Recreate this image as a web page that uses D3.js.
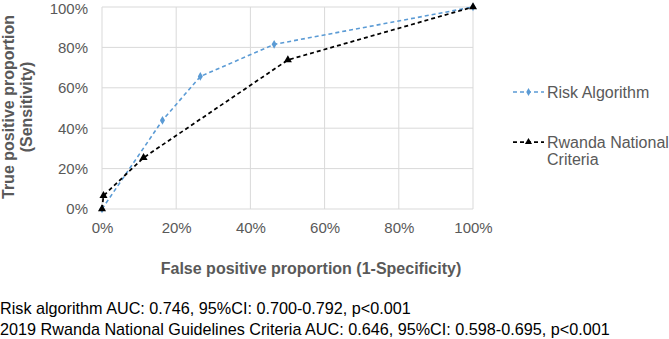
<!DOCTYPE html>
<html>
<head>
<meta charset="utf-8">
<script src="https://cdn.jsdelivr.net/npm/d3@7"></script>
<style>
  body { margin: 0; background: #fff; }
  svg { display: block; font-family: "Liberation Sans", Arial, sans-serif; }
</style>
</head>
<body>
<div class="chart"></div>
<script>
// ROC points (proportions)
const riskFpr = [0, 0.163, 0.265, 0.464, 1]
const riskTpr = [0, 0.439, 0.656, 0.815, 1]
const rwandaFpr = [0, 0.004, 0.112, 0.501, 1]
const rwandaTpr = [0, 0.066, 0.254, 0.738, 1]
const tickValues = [0, 0.2, 0.4, 0.6, 0.8, 1]
const seriesNames = ["Risk Algorithm", "Rwanda National|Criteria"]
const seriesColors = ["#5b9bd5", "#000000"]
const footnotes = [
    "Risk algorithm AUC: 0.746, 95%CI: 0.700-0.792, p<0.001",
    "2019 Rwanda National Guidelines Criteria AUC: 0.646, 95%CI: 0.598-0.695, p<0.001"
]

const width = 669
const height = 339
const margin = ({top: 7, right: 196, bottom: 130, left: 102})
const w = width - margin.left - margin.right
const h = height - margin.top - margin.bottom

const svg = d3.select('.chart').append('svg')
    .attr("width", width)
    .attr("height", height)

const g = svg.append("g")
    .attr("transform", `translate(${margin.left},${margin.top})`)

const xScale = d3.scaleLinear().domain([0, 1]).range([0, w])
const yScale = d3.scaleLinear().domain([0, 1]).range([h, 0])

// Gridlines
g.selectAll(".vgrid")
    .data(tickValues)
    .enter()
    .append("line")
        .attr("x1", d => xScale(d))
        .attr("x2", d => xScale(d))
        .attr("y1", 0)
        .attr("y2", h)
        .attr("stroke", "#d9d9d9")
        .attr("stroke-width", 1)

g.selectAll(".hgrid")
    .data(tickValues)
    .enter()
    .append("line")
        .attr("x1", 0)
        .attr("x2", w)
        .attr("y1", d => yScale(d))
        .attr("y2", d => yScale(d))
        .attr("stroke", "#d9d9d9")
        .attr("stroke-width", 1)

// Axes (labels only, lines are the grid)
const xAxis = d3.axisBottom(xScale)
    .tickValues(tickValues)
    .tickFormat(d3.format(".0%"))
    .tickSize(0)
    .tickPadding(13)
const yAxis = d3.axisLeft(yScale)
    .tickValues(tickValues)
    .tickFormat(d3.format(".0%"))
    .tickSize(0)
    .tickPadding(14)

g.append("g")
    .attr("transform", `translate(0,${h})`)
    .call(xAxis)
    .call(a => a.select(".domain").remove())
    .selectAll("text")
        .attr("fill", "#595959")
        .style("font-size", "15px")

g.append("g")
    .call(yAxis)
    .call(a => a.select(".domain").remove())
    .selectAll("text")
        .attr("fill", "#595959")
        .style("font-size", "15px")
        // keep the top label inside the picture
        .attr("dy", d => d === 1 ? "0.45em" : "0.32em")

// Series lines
const series = [
    {fpr: riskFpr, tpr: riskTpr},
    {fpr: rwandaFpr, tpr: rwandaTpr}
]
const line = d3.line()
    .x(d => xScale(d[0]))
    .y(d => yScale(d[1]))

series.forEach((s, i) => {
    const pts = s.fpr.map((v, j) => [v, s.tpr[j]])
    g.append("path")
        .datum(pts)
        .attr("d", line)
        .attr("fill", "none")
        .attr("stroke", seriesColors[i])
        .attr("stroke-width", i === 0 ? 1.6 : 1.75)
        .attr("stroke-dasharray", "4,3")

    const sym = d3.symbol()
        .type(i === 0 ? d3.symbolDiamond : d3.symbolTriangle)
        .size(i === 0 ? 22 : 28)
    g.selectAll(".m" + i)
        .data(pts)
        .enter()
        .append("path")
            .attr("d", sym)
            .attr("transform", d => `translate(${xScale(d[0])},${yScale(d[1])})`)
            .attr("fill", seriesColors[i])
})

// Legend
const legend = svg.append("g")
    .attr("transform", "translate(513,0)")
const legendY = [92, 142]
seriesNames.forEach((name, i) => {
    const ly = legendY[i]
    legend.append("line")
        .attr("x1", 0).attr("x2", 31)
        .attr("y1", ly).attr("y2", ly)
        .attr("stroke", seriesColors[i])
        .attr("stroke-width", i === 0 ? 1.6 : 1.75)
        .attr("stroke-dasharray", "4,3")
    legend.append("path")
        .attr("d", d3.symbol().type(i === 0 ? d3.symbolDiamond : d3.symbolTriangle).size(i === 0 ? 18 : 22))
        .attr("transform", `translate(15.5,${ly})`)
        .attr("fill", seriesColors[i])
    name.split("|").forEach((part, k) => {
        legend.append("text")
            .attr("x", 34)
            .attr("y", ly + 6 + k * 17)
            .attr("fill", "#595959")
            .style("font-size", "16px")
            .text(part)
    })
})

// Axis titles
svg.append("text")
    .attr("x", 311)
    .attr("y", 274)
    .attr("text-anchor", "middle")
    .attr("fill", "#595959")
    .style("font-size", "16px")
    .style("font-weight", "bold")
    .text("False positive proportion (1-Specificity)")

const yTitle = svg.append("text")
    .attr("transform", "translate(0,107) rotate(-90)")
    .attr("text-anchor", "middle")
    .attr("fill", "#595959")
    .style("font-size", "16px")
    .style("font-weight", "bold")
yTitle.append("tspan").attr("x", 0).attr("y", 13.5).text("True positive proportion")
yTitle.append("tspan").attr("x", 0).attr("y", 32).text("(Sensitivity)")

// Footnotes
svg.selectAll(".foot")
    .data(footnotes)
    .enter()
    .append("text")
        .attr("x", 0)
        .attr("y", (_, i) => 314 + i * 21)
        .attr("fill", "#000")
        .style("font-size", "16.2px")
        .text(d => d)
</script>
</body>
</html>
